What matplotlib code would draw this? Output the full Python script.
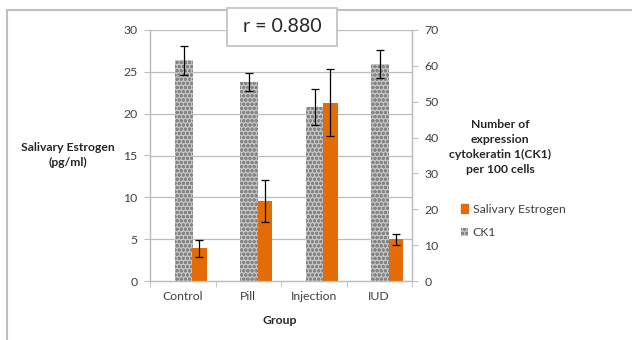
import matplotlib.pyplot as plt
import matplotlib.patches as mpatches
import numpy as np

plt.rcParams['font.family'] = ['Lato', 'DejaVu Sans']
plt.rcParams['hatch.linewidth'] = 1.0

groups = ["Control", "Pill", "Injection", "IUD"]
estrogen = [3.9, 9.6, 21.3, 5.0]
estrogen_err = [1.0, 2.5, 4.0, 0.65]
ck1 = [61.5, 55.5, 48.5, 60.5]
ck1_err = [4.0, 2.5, 5.0, 4.0]

txt = '#404040'
grid = '#bdbdbd'
gray_face = '#c6c6c6'
gray_dots = '#858585'

fig = plt.figure(figsize=(6.32, 3.40), dpi=100)
ax = fig.add_axes([150/632, 59/340, 262/632, 251/340])
ax2 = ax.twinx()

x = np.arange(len(groups))

# gridlines follow the left axis ticks, drawn under the bars
for v in range(5, 31, 5):
    ax2.axhline(v * 70 / 30, color=grid, linewidth=0.9, zorder=0)

ax2.bar(x + 0.015, ck1, width=0.28, color=gray_face, edgecolor=gray_dots,
        hatch='oooo', linewidth=0, zorder=2)
ax2.errorbar(x + 0.015, ck1, yerr=ck1_err, fmt='none', ecolor='black',
             elinewidth=0.9, capsize=3, capthick=0.9, zorder=3)

ax.set_zorder(ax2.get_zorder() + 1)
ax.patch.set_visible(False)
ax.bar(x + 0.255, estrogen, width=0.225, color='#e36c09', zorder=2)
ax.errorbar(x + 0.255, estrogen, yerr=estrogen_err, fmt='none', ecolor='black',
            elinewidth=0.9, capsize=3, capthick=0.9, zorder=3)

ax.set_xlim(-0.5, 3.5)
ax.set_ylim(0, 30)
ax2.set_ylim(0, 70)
ax.set_yticks(range(0, 31, 5))
ax2.set_yticks(range(0, 71, 10))

ax.set_xticks(x)
ax.set_xticklabels(groups)
ax.set_xticks(np.arange(-0.5, 4.0, 1.0), minor=True)
ax.tick_params(axis='x', which='major', length=0, pad=7, labelsize=8.8, labelcolor=txt)
ax.tick_params(axis='x', which='minor', length=4, color=grid, direction='out')
ax.tick_params(axis='y', length=4, color=grid, labelsize=8.8, labelcolor=txt, pad=5)
ax2.tick_params(axis='y', length=4, color=grid, labelsize=8.8, labelcolor=txt, pad=5)

for a in (ax, ax2):
    a.spines['top'].set_visible(False)
    for s in ('left', 'right', 'bottom'):
        a.spines[s].set_color(grid)
        a.spines[s].set_linewidth(0.9)

fig.text(68/632, 1 - 155/340, "Salivary Estrogen\n(pg/ml)", ha='center', va='center',
         fontsize=8.7, fontweight='bold', color='#262626', linespacing=1.45)
fig.text(500/632, 1 - 147/340, "Number of\nexpression\ncytokeratin 1(CK1)\nper 100 cells",
         ha='center', va='center', fontsize=8.7, fontweight='bold', color='#262626',
         linespacing=1.45)
fig.text(280/632, 1 - 320/340, "Group", ha='center', va='center',
         fontsize=8.8, fontweight='bold', color='#262626')

# chart border
fig.patches.append(mpatches.Rectangle((7/632, -0.1), 1.0, 1.1 - 10/340, transform=fig.transFigure,
                                      fill=False, edgecolor='#bfbfbf', linewidth=1.5))
# r box
fig.patches.append(mpatches.Rectangle((227/632, 1 - 46/340), 110/632, 38/340,
                                      transform=fig.transFigure, facecolor='white',
                                      edgecolor='#bfbfbf', linewidth=1.2, zorder=5))
fig.text(282/632, 1 - 27/340, "r = 0.880", ha='center', va='center', fontsize=14,
         color='#262626', zorder=6)

handles = [mpatches.Patch(color='#e36c09', label='Salivary Estrogen'),
           mpatches.Patch(facecolor=gray_face, edgecolor=gray_dots, hatch='oooo',
                          linewidth=0, label='CK1')]
fig.legend(handles=handles, loc='center left', bbox_to_anchor=(450/632, 1 - 221/340),
           frameon=False, fontsize=8.8, handlelength=0.55, handleheight=0.7,
           handletextpad=0.4, labelspacing=1.05, labelcolor=txt)

fig.savefig("out.png", dpi=100)
